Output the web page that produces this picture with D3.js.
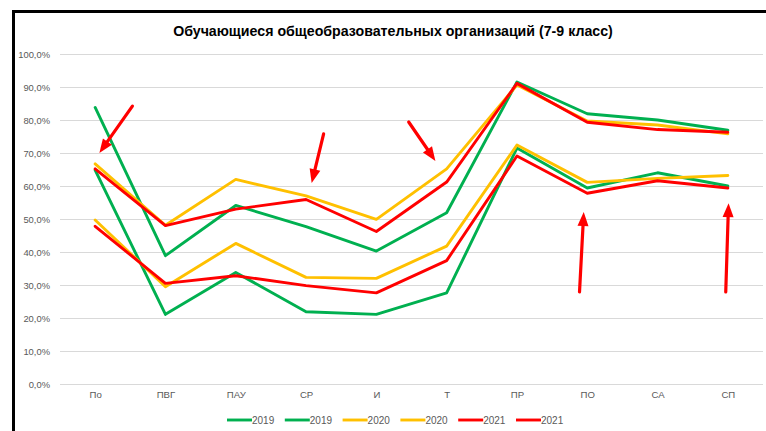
<!DOCTYPE html>
<html>
<head>
<meta charset="utf-8">
<script src="https://cdn.jsdelivr.net/npm/d3@7"></script>
<style>
  html, body { margin: 0; padding: 0; background: #fff; }
  svg { display: block; }
</style>
</head>
<body>
<svg id="chart" width="766" height="431"></svg>
<script>
const title = "Обучающиеся общеобразовательных организаций (7-9 класс)";
const categories = ["По", "ПВГ", "ПАУ", "СР", "И", "Т", "ПР", "ПО", "СА", "СП"];
const yTicks = [0, 10, 20, 30, 40, 50, 60, 70, 80, 90, 100];

const g2019a = [83.8, 38.9, 54.1, 47.7, 40.3, 51.9, 91.5, 81.9, 80.0, 76.9];
const g2019b = [64.8, 21.1, 33.8, 21.9, 21.1, 27.6, 71.5, 59.4, 64.0, 60.0];
const y2020a = [66.7, 48.1, 62.0, 57.0, 49.9, 65.2, 90.6, 79.7, 78.5, 75.8];
const y2020b = [49.7, 29.5, 42.6, 32.3, 32.0, 41.8, 72.4, 61.1, 62.3, 63.2];
const r2021a = [65.2, 48.0, 53.0, 55.9, 46.2, 61.2, 91.1, 79.3, 77.1, 76.3];
const r2021b = [47.8, 30.5, 32.8, 29.8, 27.6, 37.4, 69.1, 57.8, 61.6, 59.4];

const seriesNames = ["2019", "2019", "2020", "2020", "2021", "2021"];
const seriesValues = [g2019a, g2019b, y2020a, y2020b, r2021a, r2021b];
const seriesColors = ["#00B050", "#00B050", "#FFC000", "#FFC000", "#FF0000", "#FF0000"];

// annotation arrows: [tail category index, tail value, tip category index, tip value]
const arrows = [
  [0.53, 84.2, 0.06, 70.0],
  [3.25, 75.8, 3.08, 60.9],
  [4.46, 79.4, 4.84, 67.6],
  [6.89, 27.9, 6.95, 52.1],
  [8.97, 27.9, 9.01, 54.8]
];

const svg = d3.select("#chart");
const font = "'Liberation Sans', Arial, sans-serif";
const textGray = "#595959";

// frame
svg.append("rect").attr("x", 13.5).attr("y", 11.5).attr("width", 800).attr("height", 500)
  .attr("fill", "#fff").attr("stroke", "#000").attr("stroke-width", 3);

const x0 = 60, x1 = 763;
const x = d3.scalePoint().domain(categories).range([x0, x1]).padding(0.5);
const xi = d3.scaleLinear().domain([-0.5, categories.length - 0.5]).range([x0, x1]);
const y = d3.scaleLinear().domain([0, 100]).range([384, 54]);

// gridlines
svg.append("g").selectAll("line").data(yTicks).join("line")
  .attr("x1", x0).attr("x2", x1)
  .attr("y1", d => Math.round(y(d)) + 0.5).attr("y2", d => Math.round(y(d)) + 0.5)
  .attr("stroke", "#d9d9d9").attr("stroke-width", 1);

// y axis labels
const yAxis = d3.axisLeft(y).tickValues(yTicks).tickSize(0).tickPadding(0)
  .tickFormat(d => d3.format(".1f")(d).replace(".", ",") + "%");
const gy = svg.append("g").attr("transform", "translate(50,0)").call(yAxis);
gy.select(".domain").remove();
gy.selectAll("text").attr("fill", textGray).style("font-family", font).style("font-size", "9.4px");

// x axis labels
const xAxis = d3.axisBottom(x).tickSize(0).tickPadding(0);
const gx = svg.append("g").attr("transform", "translate(0,391)").call(xAxis);
gx.select(".domain").remove();
gx.selectAll("text").attr("fill", textGray).style("font-family", font).style("font-size", "9.6px");

// lines
const line = d3.line().x((d, i) => x(categories[i])).y(d => y(d));
svg.append("g").selectAll("path").data(seriesValues).join("path")
  .attr("d", d => line(d))
  .attr("fill", "none")
  .attr("stroke", (d, i) => seriesColors[i])
  .attr("stroke-width", 2.9)
  .attr("stroke-linejoin", "round")
  .attr("stroke-linecap", "round");

// arrows
const ag = svg.append("g");
arrows.forEach(a => {
  const tx = xi(a[0]), ty = y(a[1]), hx = xi(a[2]), hy = y(a[3]);
  const dx = hx - tx, dy = hy - ty, len = Math.hypot(dx, dy);
  const ux = dx / len, uy = dy / len;
  const headLen = 14, headW = 5.5;
  const bx = hx - ux * headLen, by = hy - uy * headLen;
  ag.append("line").attr("x1", tx).attr("y1", ty).attr("x2", bx + ux * 2).attr("y2", by + uy * 2)
    .attr("stroke", "#FF0000").attr("stroke-width", 3.2).attr("stroke-linecap", "round");
  ag.append("path")
    .attr("d", `M${hx},${hy}L${bx - uy * headW},${by + ux * headW}L${bx + uy * headW},${by - ux * headW}Z`)
    .attr("fill", "#FF0000");
});

// title
const t = svg.append("text").attr("x", 393).attr("y", 36).attr("text-anchor", "middle")
  .style("font-family", font).style("font-weight", "bold").style("font-size", "14px")
  .attr("fill", "#000").text(title);
const tw = t.node().getComputedTextLength();
t.style("font-size", (14 * 440 / tw).toFixed(2) + "px");

// legend
const lg = svg.append("g");
const legX = d3.scaleLinear().domain([0, 1]).range([227, 284.8]);
seriesNames.forEach((name, i) => {
  const lx = legX(i);
  lg.append("line").attr("x1", lx).attr("x2", lx + 25).attr("y1", 420).attr("y2", 420)
    .attr("stroke", seriesColors[i]).attr("stroke-width", 2.9);
  lg.append("text").attr("x", lx + 25).attr("y", 423.6).attr("fill", textGray)
    .style("font-family", font).style("font-size", "10px").text(name);
});
</script>
</body>
</html>
